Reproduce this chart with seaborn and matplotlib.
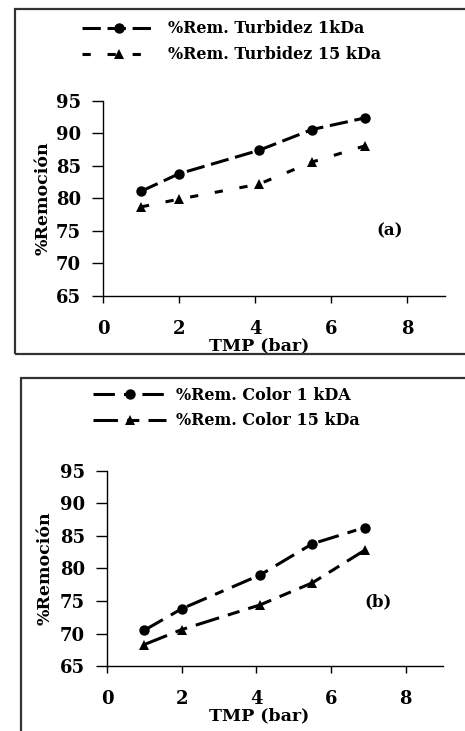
import pandas as pd
import matplotlib.pyplot as plt
import seaborn as sns
from matplotlib.patches import Rectangle

# -----------------------------
# Data
# -----------------------------
tmp = [1.0, 2.0, 4.1, 5.5, 6.9]

turb_1kda = [81.1, 83.8, 87.4, 90.6, 92.4]
turb_15kda = [78.7, 79.9, 82.2, 85.6, 88.1]

color_1kda = [70.5, 73.8, 79.0, 83.8, 86.3]
color_15kda = [68.3, 70.6, 74.4, 77.8, 82.8]

labels_a = ["%Rem. Turbidez 1kDa", "%Rem. Turbidez 15 kDa"]
labels_b = ["%Rem. Color 1 kDA", "%Rem. Color 15 kDa"]

y_ticks = [65, 70, 75, 80, 85, 90, 95]
x_ticks = [0, 2, 4, 6, 8]

# -----------------------------
# Style
# -----------------------------
sns.set_style("ticks")
plt.rcParams["font.family"] = ["DejaVu Serif"]
plt.rcParams["font.weight"] = "bold"
plt.rcParams["text.color"] = "black"
plt.rcParams["axes.labelcolor"] = "black"
plt.rcParams["xtick.color"] = "black"
plt.rcParams["ytick.color"] = "black"

fig = plt.figure(figsize=(4.65, 7.31), dpi=100)

# frames around each panel
fig.patches.append(Rectangle((0.032, 0.5157), 1.1, 0.472, transform=fig.transFigure,
                             fill=False, edgecolor="#333333", linewidth=1.6))
fig.patches.append(Rectangle((0.045, -0.1), 1.1, 0.583, transform=fig.transFigure,
                             fill=False, edgecolor="#333333", linewidth=1.6))


def make_panel(rect, y1, y2, labels, dash1, dash2, tag, tag_xy, ylab_x, xlab_xy, leg_xy, txtpad):
    ax = fig.add_axes(rect)
    df = pd.DataFrame({
        "TMP": tmp + tmp,
        "rem": y1 + y2,
        "serie": [labels[0]] * len(tmp) + [labels[1]] * len(tmp),
    })
    sns.lineplot(data=df, x="TMP", y="rem", style="serie", style_order=labels,
                 markers={labels[0]: "o", labels[1]: "^"},
                 dashes={labels[0]: dash1, labels[1]: dash2},
                 color="black", linewidth=2.2, markersize=7.5, markeredgewidth=0,
                 legend=False, ax=ax)

    ax.set_xlim(0, 9)
    ax.set_ylim(65, 95)
    ax.set_xticks(x_ticks)
    ax.set_yticks(y_ticks)
    sns.despine(ax=ax)
    for s in ["left", "bottom"]:
        ax.spines[s].set_linewidth(1.0)
        ax.spines[s].set_color("black")
    ax.tick_params(axis="x", length=5, width=1, pad=12, labelsize=13)
    ax.tick_params(axis="y", length=8, width=1, pad=8, labelsize=13)
    for t in ax.get_xticklabels() + ax.get_yticklabels():
        t.set_fontweight("bold")

    ax.set_xlabel("TMP (bar)", fontsize=12.5, fontweight="bold")
    ax.set_ylabel("%Remoción", fontsize=12.5, fontweight="bold")
    ax.xaxis.set_label_coords(*xlab_xy)
    ax.yaxis.set_label_coords(ylab_x, 0.5)

    ax.text(tag_xy[0], tag_xy[1], tag, fontsize=12, fontweight="bold",
            ha="center", va="center")

    fig.legend(handles=ax.get_lines()[:2], labels=labels, loc="upper left",
               bbox_to_anchor=leg_xy, bbox_transform=fig.transFigure,
               frameon=False, borderpad=0, borderaxespad=0, handlelength=4.6,
               handletextpad=txtpad, labelspacing=0.55, numpoints=1,
               prop={"family": "DejaVu Serif", "weight": "bold", "size": 11.5})
    return ax


# (a) Turbidez
make_panel([0.2215, 0.5951, 0.7355, 0.2668], turb_1kda, turb_15kda, labels_a,
           (6, 2.2), (2.7, 5.5), "(a)", (7.55, 75.0), -0.149, (0.456, -0.21),
           (0.176, 0.972), 0.8)

# (b) Color
make_panel([0.2301, 0.0889, 0.7226, 0.2668], color_1kda, color_15kda, labels_b,
           (7, 3, 3, 3), (8, 3, 4, 3), "(b)", (7.25, 74.9), -0.16, (0.452, -0.21),
           (0.2, 0.471), 0.6)

fig.savefig("out.png", dpi=100)
